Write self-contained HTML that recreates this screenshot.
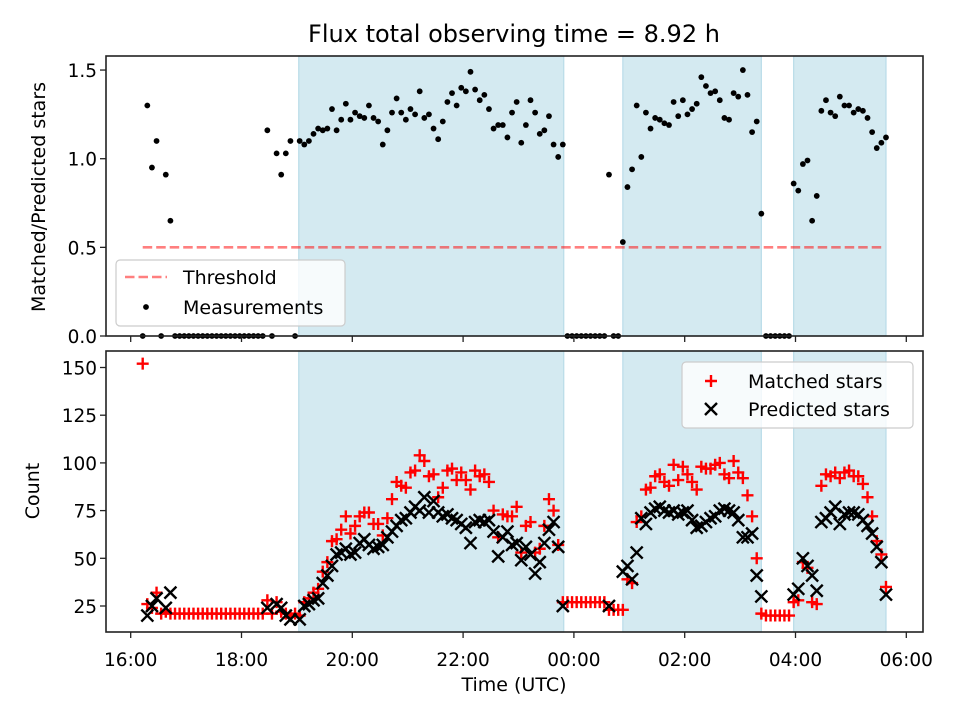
<!DOCTYPE html>
<html><head><meta charset="utf-8"><style>
html,body{margin:0;padding:0;background:#fff;}
svg text{font-family:"DejaVu Sans","Liberation Sans",sans-serif;fill:#000;}
</style></head><body>
<svg id="chart" width="960" height="720" viewBox="0 0 960 720" xmlns="http://www.w3.org/2000/svg">
<text x="514" y="42" font-size="24" text-anchor="middle">Flux total observing time = 8.92 h</text>
<g id="topPanel"></g>
<g id="botPanel"></g>
<text transform="translate(45,197) rotate(-90)" font-size="19" text-anchor="middle">Matched/Predicted stars</text>
<text transform="translate(39,491) rotate(-90)" font-size="19" text-anchor="middle">Count</text>
<text x="514" y="691" font-size="19" text-anchor="middle">Time (UTC)</text>
</svg>
<script>
const times = [13,18,23,28,33,38,43,48,53,58,63,68,73,78,83,88,93,98,103,108,113,118,123,128,133,138,143,148,153,158,163,168,173,178,183,188,193,198,203,208,213,218,223,228,233,238,243,248,253,258,263,268,273,278,283,288,293,298,303,308,313,318,323,328,333,338,343,348,353,358,363,368,373,378,383,388,393,398,403,408,413,418,423,428,433,438,443,448,453,458,463,468,473,478,483,488,493,498,503,508,513,518,523,528,533,538,543,548,553,558,563,568,573,578,583,588,593,598,603,608,613,618,623,628,633,638,643,648,653,658,663,668,673,678,683,688,693,698,703,708,713,718,723,728,733,738,743,748,753,758,763,768,773,778,783,788,793,798,803,808,813,818];
const ratio = [0,1.30,0.95,1.10,0,0.91,0.65,0,0,0,
0,0,0,0,0,0,0,0,0,0,
0,0,0,0,0,0,0,1.16,0,1.03,
0.91,1.03,1.10,0,1.10,1.08,1.10,1.14,1.17,1.16,
1.17,1.28,1.16,1.22,1.31,1.22,1.26,1.24,1.23,1.30,
1.23,1.21,1.08,1.16,1.26,1.34,1.26,1.22,1.28,1.25,
1.38,1.23,1.25,1.17,1.11,1.21,1.32,1.37,1.30,1.40,
1.38,1.49,1.39,1.33,1.36,1.28,1.17,1.19,1.19,1.12,
1.26,1.32,1.09,1.19,1.33,1.26,1.14,1.16,1.24,1.08,
1.01,1.08,0,0,0,0,0,0,0,0,
0,0.91,0,0,0.53,0.84,0.94,1.30,1.01,1.26,
1.17,1.23,1.22,1.20,1.19,1.32,1.24,1.33,1.25,1.28,
1.31,1.46,1.41,1.37,1.38,1.33,1.23,1.22,1.37,1.35,
1.50,1.36,1.15,1.21,0.69,0,0,0,0,0,
0,0.86,0.82,0.97,0.99,0.65,0.79,1.27,1.33,1.26,
1.24,1.35,1.30,1.30,1.26,1.28,1.27,1.23,1.15,1.06,1.09,1.12];
const n = null;
const predicted = [n,20,25,29,n,24,32,n,n,n,
n,n,n,n,n,n,n,n,n,n,
n,n,n,n,n,n,n,24,n,26,
24,20,18,n,18,25,26,28,29,37,
41,46,52,53,55,52,53,58,60,57,
55,56,57,61,64,67,70,71,74,77,
75,82,74,80,74,72,73,71,70,68,
66,58,69,70,69,70,64,51,61,64,
57,58,49,56,52,42,48,58,65,69,
56,25,n,n,n,n,n,n,n,n,
n,25,n,n,43,46,39,53,71,68,
74,76,77,75,74,75,73,74,75,70,
66,67,69,71,72,75,76,75,74,70,
61,61,63,41,30,n,n,n,n,n,
n,31,34,50,46,41,33,69,71,74,
77,68,73,74,74,73,70,67,63,56,48,31];
const matched = [152,26,24,32,21,22,21,21,21,21,
21,21,21,21,21,21,21,21,21,21,
21,21,21,21,21,21,21,28,21,27,
22,21,20,21,20,27,29,32,34,43,
48,59,60,65,72,63,67,72,74,74,
68,68,62,71,81,90,88,87,95,96,
104,101,93,94,82,87,96,97,91,95,
91,86,96,93,94,90,75,61,73,72,
72,77,53,67,69,53,55,67,81,75,
57,27,27,27,27,27,27,27,27,27,
27,23,23,23,23,39,37,69,72,86,
87,93,94,90,88,99,91,98,94,90,
86,98,97,97,99,100,94,92,101,95,
92,83,72,50,21,20,20,20,20,20,
20,27,28,48,45,27,26,88,94,93,
95,92,95,96,93,93,89,82,72,59,52,35];
const spans = [[182,469],[533,683],[718,818]];
const threshold = 0.5;
const thrRange = [13,815];
const xTickLabels = ["16:00","18:00","20:00","22:00","00:00","02:00","04:00","06:00"];
const xTickMins = [0,120,240,360,480,600,720,840];
const topTicks = [0,0.5,1.0,1.5];
const botTicks = [25,50,75,100,125,150];

const NS="http://www.w3.org/2000/svg";
function mk(tag,attrs,parent){const e=document.createElementNS(NS,tag);for(const k in attrs)e.setAttribute(k,attrs[k]);parent.appendChild(e);return e;}
const X0=106,X1=923;
const xs = m => 130.7 + m*(55.4/60);
const yTop = v => 336 - v*177.3;
const yBot = v => 606 - (v-25)*1.908;
const topG=document.getElementById('topPanel'), botG=document.getElementById('botPanel');

function panel(g,y0,y1,name){
  const bg=mk('rect',{x:X0,y:y0,width:X1-X0,height:y1-y0,fill:'#fff'},g);
  
  
  spans.forEach(s=>{
    const a=xs(s[0]), b=xs(s[1]);
    const r=mk('rect',{x:a,y:y0,width:b-a,height:y1-y0,fill:'#d4eaf1',stroke:'#b9dce8','stroke-width':1.2},g);
    
    
  });
}
function frame(g,y0,y1,labels,name){
  const f=mk('rect',{x:X0,y:y0,width:X1-X0,height:y1-y0,fill:'none',stroke:'#222','stroke-width':1.6},g);
  
  
  xTickMins.forEach((m,i)=>{
    mk('line',{x1:xs(m),x2:xs(m),y1:y1,y2:y1+6,stroke:'#222','stroke-width':1.3},g);
    if(labels){
      const t=mk('text',{x:xs(m),y:y1+34,'font-size':18.5,'text-anchor':'middle'},g);
      t.textContent=xTickLabels[i];
      
      
    }
  });
}
panel(topG,56,336,'top');
const thr=mk('line',{x1:xs(thrRange[0]),x2:xs(thrRange[1]),y1:yTop(threshold),y2:yTop(threshold),stroke:'#ff0000','stroke-opacity':0.5,'stroke-width':2.6,'stroke-dasharray':'9.5,4'},topG);


times.forEach((m,i)=>{
  const c=mk('circle',{cx:xs(m),cy:yTop(ratio[i]),r:2.9,fill:'#000'},topG);
  
  
});
topTicks.forEach(v=>{
  mk('line',{x1:X0-6,x2:X0,y1:yTop(v),y2:yTop(v),stroke:'#222','stroke-width':1.3},topG);
  const t=mk('text',{x:X0-9,y:yTop(v)+7,'font-size':18.5,'text-anchor':'end'},topG);
  t.textContent=v.toFixed(1);
  
  
});
frame(topG,56,336,false,'top');
const lg=mk('g',{},topG);


mk('rect',{x:116,y:260,width:229,height:66,rx:4,fill:'#fff','fill-opacity':0.8,stroke:'#ccc','stroke-width':1.2},lg);
mk('line',{x1:125,x2:167,y1:277,y2:277,stroke:'#ff0000','stroke-opacity':0.5,'stroke-width':2.6,'stroke-dasharray':'9.5,4'},lg);
mk('circle',{cx:146,cy:307,r:2.9,fill:'#000'},lg);
let t1=mk('text',{x:183,y:284,'font-size':19},lg); t1.textContent='Threshold';


let t2=mk('text',{x:183,y:314,'font-size':19},lg); t2.textContent='Measurements';



panel(botG,351,632,'bottom');
function plus(g,x,y){return mk('path',{d:`M${x-6} ${y}H${x+6}M${x} ${y-6}V${y+6}`,stroke:'#ff0000','stroke-width':2.4,fill:'none'},g);}
function cross(g,x,y){return mk('path',{d:`M${x-6} ${y-6}L${x+6} ${y+6}M${x-6} ${y+6}L${x+6} ${y-6}`,stroke:'#000','stroke-width':2.4,fill:'none'},g);}
times.forEach((m,i)=>{
  const p=plus(botG,xs(m),yBot(matched[i]));
  
  
});
times.forEach((m,i)=>{
  if(predicted[i]===null) return;
  const p=cross(botG,xs(m),yBot(predicted[i]));
  
  
});
botTicks.forEach(v=>{
  mk('line',{x1:X0-6,x2:X0,y1:yBot(v),y2:yBot(v),stroke:'#222','stroke-width':1.3},botG);
  const t=mk('text',{x:X0-9,y:yBot(v)+7,'font-size':18.5,'text-anchor':'end'},botG);
  t.textContent=String(v);
  
  
});
frame(botG,351,632,true,'bottom');
const lb=mk('g',{},botG);


mk('rect',{x:682,y:362,width:231,height:66,rx:4,fill:'#fff','fill-opacity':0.8,stroke:'#ccc','stroke-width':1.2},lb);
plus(lb,711,381); cross(lb,711,409);
let t3=mk('text',{x:748,y:388,'font-size':19},lb); t3.textContent='Matched stars';


let t4=mk('text',{x:748,y:416,'font-size':19},lb); t4.textContent='Predicted stars';


</script>
</body></html>
